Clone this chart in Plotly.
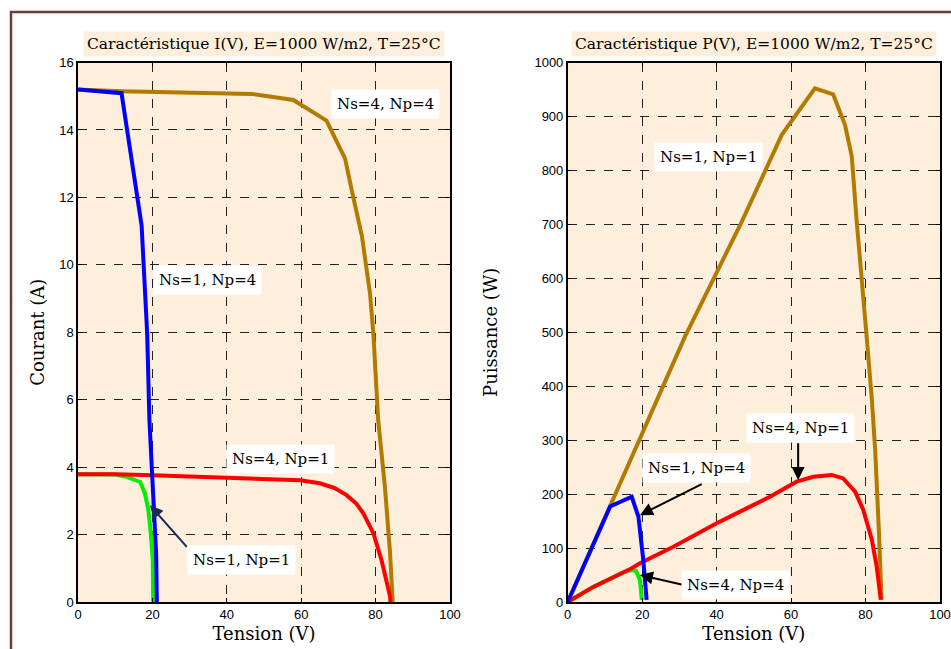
import plotly.graph_objects as go

# ---- I(V) curves, E=1000 W/m2, T=25°C ----
v_44 = [0, 11.7, 46.7, 57.9, 66.8, 71.8, 74.0, 76.3, 78.5, 79.4, 80.7, 82.5, 83.9, 84.6]
i_44 = [15.2, 15.15, 15.07, 14.89, 14.28, 13.15, 12.0, 10.87, 9.15, 7.96, 5.39, 3.42, 1.44, 0.0]

v_14 = [0, 11.7, 17.1, 18.6, 19.2, 20.2, 21.0, 21.2]
i_14 = [15.2, 15.09, 11.17, 7.96, 5.39, 2.92, 1.45, 0.0]

v_41 = [0, 10, 20.2, 30, 45.3, 59.7, 65.0, 69.0, 72.2, 74.8, 76.7, 79.4, 81.6, 83.0, 83.9, 84.0]
i_41 = [3.79, 3.79, 3.76, 3.72, 3.66, 3.61, 3.52, 3.38, 3.17, 2.92, 2.63, 2.04, 1.24, 0.65, 0.16, 0.0]

v_11 = [0, 10, 13.1, 16.7, 18.0, 18.9, 19.5, 20.1, 20.2]
i_11 = [3.79, 3.78, 3.71, 3.56, 3.22, 2.73, 2.13, 1.24, 0.0]

# ---- P(V) curves ----
pv_44 = [0, 11.4, 31.5, 46.7, 57.5, 66.4, 71.3, 74.5, 76.3, 77.6, 79.0, 80.3, 81.7, 82.6, 83.6, 84.3]
p_44 = [0, 177, 492, 704, 866, 952, 941, 884, 826, 708, 603, 492, 375, 280, 130, 4]

pv_14 = [0, 11.4, 17.2, 19.0, 20.3, 21.2]
p_14 = [0, 177, 195, 158, 78, 4]

pv_41 = [0, 6.9, 17.2, 19.4, 28.4, 40.0, 46.3, 54.3, 61.5, 66.0, 70.9, 74.0, 77.2, 79.4, 81.7, 83.0, 84.1]
p_41 = [0, 28, 62.5, 71.7, 102.5, 146, 167.5, 195, 223, 232, 235.5, 229, 204.5, 170.6, 115, 65.5, 4]

pv_11 = [0, 6.9, 15.0, 17.2, 18.3, 19.4, 19.9]
p_11 = [0, 28, 55, 59, 58, 41, 4]

x_ticks = [0, 20, 40, 60, 80, 100]
i_ticks = [0, 2, 4, 6, 8, 10, 12, 14, 16]
p_ticks = [0, 100, 200, 300, 400, 500, 600, 700, 800, 900, 1000]

titles = ["Caractéristique I(V), E=1000 W/m2, T=25°C",
          "Caractéristique P(V), E=1000 W/m2, T=25°C"]

BROWN = "#B27A00"
BLUE = "#0000FF"
RED = "#FF0000"
GREEN = "#00EE00"
BG = "#FDEFDB"
SERIF = "DejaVu Serif"
SANS = "Liberation Sans"
W, H = 951, 649

fig = go.Figure()
LW = 4

def add(x, y, color, xa, ya):
    fig.add_trace(go.Scatter(x=x, y=y, mode="lines", line=dict(color=color, width=LW),
                             xaxis=xa, yaxis=ya, showlegend=False, hoverinfo="skip"))

# left panel
add(v_44, i_44, BROWN, "x", "y")
add(v_11, i_11, GREEN, "x", "y")
add(v_41, i_41, RED, "x", "y")
add(v_14, i_14, BLUE, "x", "y")
# right panel
add(pv_44, p_44, BROWN, "x2", "y2")
add(pv_11, p_11, GREEN, "x2", "y2")
add(pv_41, p_41, RED, "x2", "y2")
add(pv_14, p_14, BLUE, "x2", "y2")

y_dom = [(H - 602) / H, (H - 62.5) / H]
left_dom = [78 / W, 450 / W]
right_dom = [567.7 / W, 940 / W]

axis_common = dict(
    showgrid=True, gridcolor="#222222", griddash="dash", gridwidth=1,
    showline=True, linecolor="black", linewidth=1.5, mirror="ticks",
    ticks="inside", ticklen=4, tickcolor="black",
    tickfont=dict(family=SANS, size=13, color="black"),
    zeroline=False, automargin=False,
)

axis_title_font = dict(family=SERIF, size=18, color="black")

fig.update_layout(
    width=W, height=H,
    margin=dict(l=0, r=0, t=0, b=0),
    paper_bgcolor="white",
    plot_bgcolor=BG,
    xaxis=dict(domain=left_dom, range=[0, 100.001], tickvals=x_ticks, anchor="y",
               title=dict(text="Tension (V)", font=axis_title_font, standoff=6),
               **axis_common),
    yaxis=dict(domain=y_dom, range=[0, 16.001], tickvals=i_ticks, anchor="x",
               title=dict(text="Courant (A)", font=axis_title_font, standoff=10),
               **axis_common),
    xaxis2=dict(domain=right_dom, range=[0, 100.001], tickvals=x_ticks, anchor="y2",
                title=dict(text="Tension (V)", font=axis_title_font, standoff=6),
                **axis_common),
    yaxis2=dict(domain=y_dom, range=[0, 1000.01], tickvals=p_ticks, anchor="x2",
                title=dict(text="Puissance (W)", font=axis_title_font, standoff=32),
                **axis_common),
)

# outer frame
fig.add_shape(type="rect", xref="paper", yref="paper",
              x0=11 / W, x1=1.05, y0=-0.05, y1=(H - 12) / H,
              line=dict(color="#6E3A3A", width=2.5), fillcolor="rgba(0,0,0,0)", layer="below")

# panel titles on beige boxes
for dom, txt in zip([left_dom, right_dom], titles):
    fig.add_annotation(text=txt, xref="paper", yref="paper",
                       x=(dom[0] + dom[1]) / 2, y=(H - 44.5) / H,
                       xanchor="center", yanchor="middle",
                       showarrow=False, bgcolor=BG, borderpad=3,
                       font=dict(family=SERIF, size=15.5, color="black"))

lab_font = dict(family=SERIF, size=15, color="black")

def label(text, x, y, xr, yr, head=None, color="black"):
    if head is not None:
        fig.add_annotation(text="", x=head[0], y=head[1], xref=xr, yref=yr,
                           ax=head[2], ay=head[3], axref=xr, ayref=yr,
                           showarrow=True, arrowhead=2, arrowsize=1.3, arrowwidth=2,
                           arrowcolor=color, standoff=0, startstandoff=0)
    fig.add_annotation(text=text, x=x, y=y, xref=xr, yref=yr, showarrow=False,
                       xanchor="center", yanchor="middle",
                       bgcolor="white", borderpad=5, font=lab_font)

# left panel labels
label("Ns=4, Np=4", 82.7, 14.76, "x", "y")
label("Ns=1, Np=4", 34.8, 9.56, "x", "y")
label("Ns=4, Np=1", 54.5, 4.23, "x", "y")
label("Ns=1, Np=1", 44.0, 1.24, "x", "y", head=(19.35, 2.87, 29.6, 1.59), color="#1B2A5E")

# right panel labels
label("Ns=1, Np=1", 37.9, 825.7, "x2", "y2")
label("Ns=4, Np=1", 62.4, 322, "x2", "y2", head=(61.9, 226, 61.9, 297))
label("Ns=1, Np=4", 34.6, 249, "x2", "y2", head=(19.4, 161, 36.4, 220))
label("Ns=4, Np=4", 45.0, 31.5, "x2", "y2", head=(19.4, 50, 31.3, 31.5))

fig.write_html("out.html")
